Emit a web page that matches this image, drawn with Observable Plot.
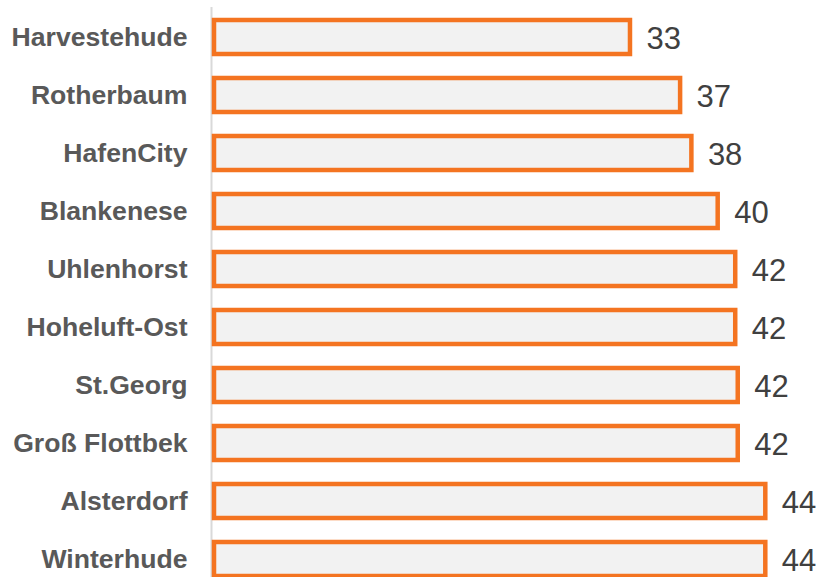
<!DOCTYPE html>
<html>
<head>
<meta charset="utf-8">
<script src="https://cdn.jsdelivr.net/npm/d3@7"></script>
<script src="https://cdn.jsdelivr.net/npm/@observablehq/plot@0.6"></script>
<style>
  html, body { margin: 0; padding: 0; background: #ffffff; overflow: hidden; }
  #chart svg { display: block; overflow: hidden; }
</style>
</head>
<body>
<div id="chart"></div>
<script>
const districts = ["Harvestehude", "Rotherbaum", "HafenCity", "Blankenese", "Uhlenhorst", "Hoheluft-Ost", "St.Georg", "Groß Flottbek", "Alsterdorf", "Winterhude"];
const values = [33.2, 37.2, 38.1, 40.2, 41.6, 41.6, 41.8, 41.8, 44.0, 44.0];

const data = districts.map((d, i) => ({district: d, value: values[i]}));
const fmt = d3.format(".0f");
const font = "'Liberation Sans', Arial, Helvetica, sans-serif";

const chart = Plot.plot({
  width: 821,
  height: 577,
  marginTop: 7,
  marginBottom: 0,
  marginLeft: 0,
  marginRight: 0,
  style: {fontFamily: font, background: "#ffffff"},
  x: {domain: [0, 44], range: [214, 765.3], axis: null},
  y: {domain: districts, range: [6.9, 588.9], paddingInner: 0.416, paddingOuter: 0.208, axis: null},
  marks: [
    Plot.ruleX([0], {dx: -3, stroke: "#d9d9d9", strokeWidth: 2}),
    Plot.barX(data, {x: "value", y: "district", fill: "#f2f2f2", stroke: "#f47421", strokeWidth: 4.5}),
    Plot.text(data, {x: 0, y: "district", text: "district", textAnchor: "end", dx: -27, fontSize: 26.6, fontWeight: "bold", fill: "#595959"}),
    Plot.text(data, {x: "value", y: "district", text: d => fmt(d.value), textAnchor: "start", dx: 16, dy: 2, fontSize: 31, fill: "#404040"})
  ]
});
document.getElementById("chart").appendChild(chart);
</script>
</body>
</html>
